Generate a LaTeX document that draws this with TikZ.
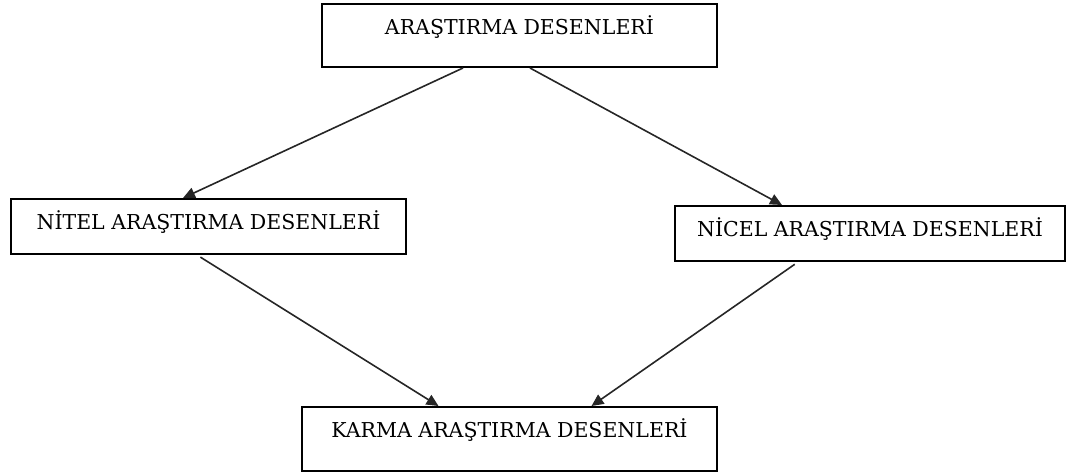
\documentclass[tikz,border=0pt]{standalone}
\usepackage{fontspec}
\setmainfont{DejaVu Serif}
\usetikzlibrary{arrows.meta}
\begin{document}
\begin{tikzpicture}[x=1pt,y=-1pt,
    kutu/.style={draw,line width=2pt,inner sep=0pt,anchor=north,font=\fontsize{20.5}{24}\selectfont,text height=30pt},
    ok/.style={line width=1.6pt,draw=black!85,-{Triangle[length=12pt,width=11pt]}}]
    \useasboundingbox (0,0) rectangle (1069,472);
    \node[kutu,minimum width=395pt,text depth=33pt] (ust) at (519.5,3) {ARAŞTIRMA DESENLERİ};
    \node[kutu,minimum width=395pt,text depth=25pt] (nitel) at (208.5,198) {NİTEL ARAŞTIRMA DESENLERİ};
    \node[kutu,minimum width=390pt,text depth=25pt] (nicel) at (870,205) {NİCEL ARAŞTIRMA DESENLERİ};
    \node[kutu,minimum width=415pt,text depth=34pt] (karma) at (509.5,406) {KARMA ARAŞTIRMA DESENLERİ};
    \draw[ok] ([xshift=-56.5pt]ust.south) -- ([xshift=-25.5pt]nitel.north);
    \draw[ok] ([xshift=10.5pt]ust.south) -- ([xshift=-88pt]nicel.north);
    \draw[ok,shorten <=4pt] ([xshift=-11.5pt]nitel.south) -- ([xshift=-71pt]karma.north);
    \draw[ok,shorten <=4pt] ([xshift=-72pt]nicel.south) -- ([xshift=82pt]karma.north);
\end{tikzpicture}
\end{document}
